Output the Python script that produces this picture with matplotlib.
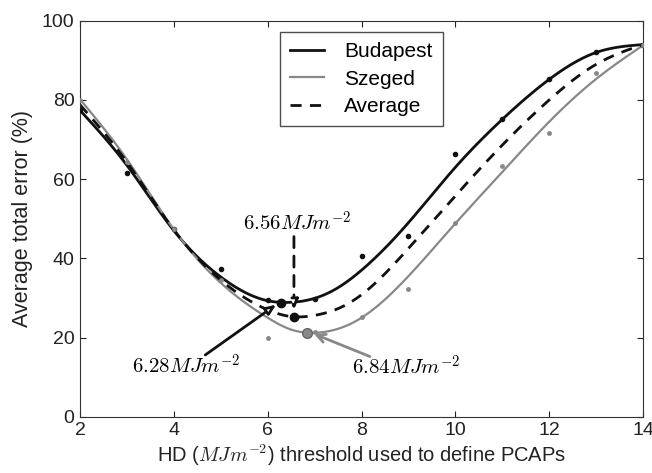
import numpy as np
import matplotlib
matplotlib.use("Agg")
import matplotlib.pyplot as plt

plt.rcParams['font.family'] = ['Liberation Sans', 'DejaVu Sans']
plt.rcParams['mathtext.fontset'] = 'cm'

# fitted curves
curve_x = [2, 3, 4, 5, 6, 6.5, 7, 7.5, 8, 9, 10, 11, 12, 13, 14]
budapest_fit = [77.4, 63.5, 47.0, 35.3, 29.3, 28.9, 29.9, 32.6, 37.0, 49.0, 63.0, 75.1, 85.2, 92.0, 94.0]
szeged_fit = [80.2, 65.0, 47.3, 33.8, 25.0, 22.0, 21.2, 22.2, 25.0, 35.5, 48.8, 61.8, 74.5, 85.3, 93.8]
average_fit = [78.8, 64.3, 47.2, 34.5, 27.0, 25.3, 25.6, 27.3, 30.8, 42.5, 55.8, 68.6, 80.0, 89.0, 94.0]

# observed points
pts_x = [2, 3, 4, 5, 6, 7, 8, 9, 10, 11, 12, 13, 14]
budapest_pts = [77.5, 61.5, 47.3, 37.3, 29.5, 29.7, 40.6, 45.6, 66.3, 75.2, 85.2, 92.0, 94.0]
szeged_pts = [80.0, 64.4, 47.5, 34.5, 20.0, 21.5, 25.1, 32.2, 49.0, 63.4, 71.7, 86.9, 94.0]

# minima
min_x = [6.28, 6.56, 6.84]
min_y = [28.8, 25.1, 21.1]
min_labels = ['$6.28MJm^{-2}$', '$6.56MJm^{-2}$', '$6.84MJm^{-2}$']

xticks = [2, 4, 6, 8, 10, 12, 14]
yticks = [0, 20, 40, 60, 80, 100]


def natural_spline(x, y, xs):
    x = np.asarray(x, float); y = np.asarray(y, float)
    n = len(x)
    h = np.diff(x)
    A = np.zeros((n, n)); r = np.zeros(n)
    A[0, 0] = 1; A[-1, -1] = 1
    for i in range(1, n - 1):
        A[i, i - 1] = h[i - 1]
        A[i, i] = 2 * (h[i - 1] + h[i])
        A[i, i + 1] = h[i]
        r[i] = 3 * ((y[i + 1] - y[i]) / h[i] - (y[i] - y[i - 1]) / h[i - 1])
    c = np.linalg.solve(A, r)
    idx = np.clip(np.searchsorted(x, xs) - 1, 0, n - 2)
    dx = xs - x[idx]
    hi = h[idx]
    b = (y[idx + 1] - y[idx]) / hi - hi * (2 * c[idx] + c[idx + 1]) / 3
    d = (c[idx + 1] - c[idx]) / (3 * hi)
    return y[idx] + b * dx + c[idx] * dx ** 2 + d * dx ** 3


fig = plt.figure(figsize=(6.52, 4.73), dpi=100)
ax = fig.add_axes([0.1227, 0.119, 0.8635, 0.837])

xs = np.linspace(2, 14, 400)
GRAY = '#888888'
ax.plot(xs, natural_spline(curve_x, budapest_fit, xs), color='#111111', lw=2, label='Budapest')
ax.plot(xs, natural_spline(curve_x, szeged_fit, xs), color=GRAY, lw=1.6, label='Szeged')
ax.plot(xs, natural_spline(curve_x, average_fit, xs), color='#111111', lw=2, ls=(0, (4, 3)), label='Average')

ax.plot(pts_x, budapest_pts, 'o', color='#111111', ms=3, zorder=3)
ax.plot(pts_x, szeged_pts, 'o', color=GRAY, ms=2.5, zorder=3)

ax.plot(min_x[0], min_y[0], 'o', color='#111111', ms=6, zorder=4)
ax.plot(min_x[1], min_y[1], 'o', color='#111111', ms=6, zorder=4)
ax.plot(min_x[2], min_y[2], 'o', color=GRAY, mec='#666666', ms=7, zorder=4)

fs = 15
# 6.28 label + arrow
ax.text(4.26, 13.0, min_labels[0], fontsize=fs, ha='center', va='center')
ax.annotate('', xy=(6.18, 28.3), xytext=(4.67, 15.6),
            arrowprops=dict(arrowstyle='-|>,head_length=0.6,head_width=0.25', fc='white', ec='#111111', lw=2,
                            shrinkA=0, shrinkB=0))
# 6.56 label + arrow
ax.text(6.62, 49.0, min_labels[1], fontsize=fs, ha='center', va='center')
ax.annotate('', xy=(6.56, 27.0), xytext=(6.56, 45.5),
            arrowprops=dict(arrowstyle='-|>,head_length=0.6,head_width=0.25', fc='white', ec='#111111', lw=2,
                            ls=(0, (4, 3)), shrinkA=0, shrinkB=0))
# 6.84 label + arrow
ax.text(8.95, 12.6, min_labels[2], fontsize=fs, ha='center', va='center')
ax.annotate('', xy=(6.99, 20.9), xytext=(8.18, 15.2),
            arrowprops=dict(arrowstyle='->,head_length=0.6,head_width=0.3', color=GRAY, lw=2,
                            shrinkA=0, shrinkB=0))

ax.set_xlim(2, 14)
ax.set_ylim(0, 100)
ax.set_xticks(xticks)
ax.set_yticks(yticks)
ax.tick_params(direction='in', top=True, right=True, length=4, labelsize=14, colors='#222222', pad=4)
for s in ax.spines.values():
    s.set_color('#333333')
ax.set_xlabel('HD ($MJm^{-2}$) threshold used to define PCAPs', fontsize=14.5, color='#222222', labelpad=2)
ax.set_ylabel('Average total error (%)', fontsize=15.5, color='#222222', labelpad=6)

leg = ax.legend(loc='upper center', bbox_to_anchor=(0.5, 0.972), borderaxespad=0, fontsize=15, fancybox=False,
                edgecolor='#222222', handlelength=1.6, handletextpad=1.0, borderpad=0.5, labelspacing=0.4)
leg.get_frame().set_linewidth(1)

fig.savefig('out.png', dpi=100)
